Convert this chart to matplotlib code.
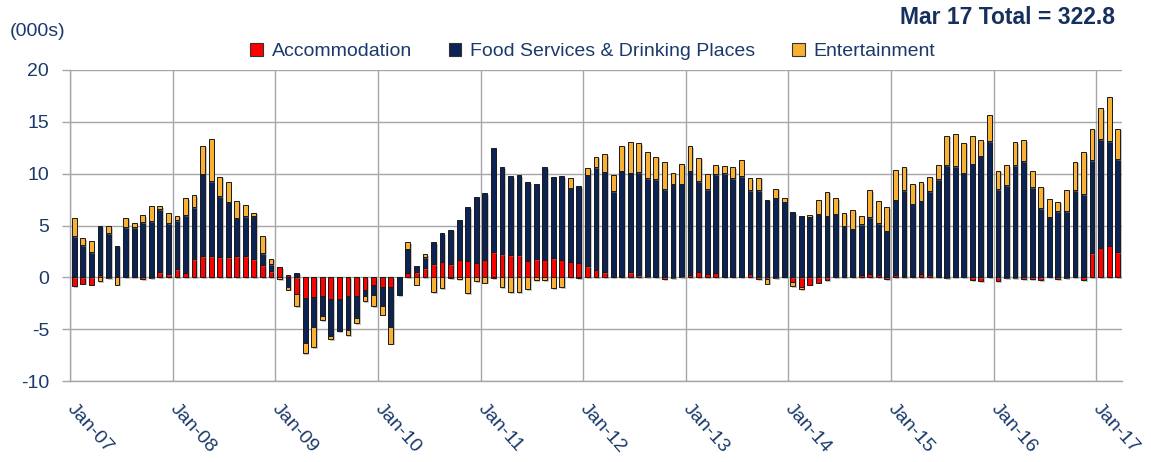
import numpy as np
import matplotlib
matplotlib.use("Agg")
import matplotlib.pyplot as plt
from matplotlib.patches import Patch
import matplotlib.patheffects as pe

plt.rcParams['font.family'] = ['Liberation Sans', 'DejaVu Sans']

# ---------------- data (thousands, monthly change) ----------------
year_labels = ["Jan-07", "Jan-08", "Jan-09", "Jan-10", "Jan-11", "Jan-12",
               "Jan-13", "Jan-14", "Jan-15", "Jan-16", "Jan-17"]

accommodation = [
    # 2007
    -0.85, -0.6, -0.7, 0.25, -0.1, 0.0, 0.0, 0.0, -0.2, -0.1, 0.5, 0.3,
    # 2008
    0.8, 0.45, 1.75, 2.05, 2.05, 1.95, 1.95, 2.05, 2.05, 1.75, 1.2, 0.6,
    # 2009
    0.95, 0.2, -1.6, -2.0, -1.85, -1.8, -2.05, -2.05, -1.8, -1.8, -1.2, -0.7,
    # 2010
    -0.95, -0.95, 0.0, 0.45, 0.5, 0.9, 1.3, 1.5, 1.3, 1.7, 1.6, 1.4,
    # 2011
    1.7, 2.45, 2.25, 2.15, 2.15, 1.6, 1.75, 1.7, 1.85, 1.7, 1.5, 1.4,
    # 2012
    1.05, 0.75, 0.5, 0.0, 0.15, 0.5, 0.2, 0.1, 0.0, -0.2, -0.1, 0.1,
    # 2013
    0.25, 0.55, 0.35, 0.45, 0.05, 0.0, 0.0, 0.35, -0.2, -0.2, -0.1, 0.0,
    # 2014
    -0.45, -0.95, -0.7, -0.5, -0.3, 0.0, 0.0, 0.0, 0.25, 0.35, 0.25, -0.2,
    # 2015
    0.25, 0.15, 0.15, 0.35, 0.25, 0.0, -0.05, 0.0, 0.0, -0.3, -0.4, 0.0,
    # 2016
    -0.4, -0.1, -0.1, -0.2, -0.2, -0.3, 0.0, -0.2, -0.1, 0.0, -0.3, 2.35,
    # 2017
    2.85, 3.05, 2.45,
]

food_services = [
    # 2007
    4.0, 3.1, 2.4, 4.7, 4.25, 3.05, 4.85, 4.85, 5.3, 5.4, 6.05, 4.9,
    # 2008
    4.7, 5.55, 5.0, 7.95, 7.2, 5.85, 5.35, 3.7, 3.85, 4.2, 1.1, 0.65,
    # 2009
    0.0, -0.95, 0.45, -4.3, -2.9, -1.9, -3.6, -3.1, -3.3, -2.1, -0.6, -1.0,
    # 2010
    -1.8, -3.85, -1.6, 2.3, 0.6, 1.05, 2.1, 2.75, 3.3, 3.85, 5.2, 6.35,
    # 2011
    6.45, 10.0, 8.4, 7.6, 7.7, 7.6, 7.3, 8.95, 7.85, 8.05, 7.15, 7.4,
    # 2012
    8.85, 9.85, 9.7, 8.3, 10.15, 9.6, 9.95, 9.45, 9.45, 8.5, 9.05, 8.95,
    # 2013
    10.05, 8.7, 8.15, 9.5, 10.0, 9.55, 9.75, 8.05, 8.4, 7.5, 7.7, 7.3,
    # 2014
    6.3, 5.95, 5.85, 6.15, 5.95, 6.15, 5.0, 4.7, 4.85, 5.45, 4.95, 4.5,
    # 2015
    7.25, 8.25, 6.95, 7.05, 8.05, 9.45, 10.85, 10.75, 10.1, 10.95, 11.75, 13.15,
    # 2016
    8.5, 8.9, 10.85, 11.2, 8.7, 6.65, 5.85, 6.4, 6.4, 8.4, 8.0, 8.95,
    # 2017
    10.45, 10.1, 8.95,
]

entertainment = [
    # 2007
    1.75, 0.65, 1.1, -0.4, 0.7, -0.7, 0.9, 0.35, 0.7, 1.5, 0.3, 1.05,
    # 2008
    0.45, 1.65, 1.15, 2.7, 4.1, 1.9, 1.9, 1.6, 1.05, 0.3, 1.7, 0.55,
    # 2009
    -0.2, -0.25, -1.2, -1.0, -2.0, -0.45, -0.3, -0.05, -0.5, -0.5, -0.5, -1.05,
    # 2010
    -0.85, -1.6, -0.1, 0.65, -0.7, 0.3, -1.4, -1.05, -0.1, -0.2, -1.5, -0.4,
    # 2011
    -0.5, -0.1, -0.95, -1.4, -1.4, -1.15, -0.3, -0.3, -1.05, -0.95, 0.9, -0.1,
    # 2012
    0.6, 1.05, 1.7, 1.55, 2.4, 3.0, 2.8, 2.5, 2.2, 2.65, 1.05, 1.85,
    # 2013
    2.35, 2.3, 1.5, 0.9, 0.7, 1.1, 1.6, 1.15, 1.2, -0.4, 0.85, 0.4,
    # 2014
    -0.4, -0.2, 0.2, 1.3, 2.3, 1.5, 1.2, 1.75, 0.85, 2.6, 2.15, 2.3,
    # 2015
    2.85, 2.25, 1.95, 1.75, 1.4, 1.4, 2.8, 3.1, 2.9, 2.65, 1.5, 2.5,
    # 2016
    1.8, 1.95, 2.2, 2.0, 1.55, 2.1, 1.7, 0.9, 2.0, 2.75, 4.05, 3.05,
    # 2017
    3.05, 4.2, 2.95,
]

series_names = ["Accommodation", "Food Services & Drinking Places", "Entertainment"]
series_colors = ["#FF0000", "#0C2355", "#F8B133"]
title_text = "Mar 17 Total = 322.8"
unit_text = "(000s)"

# ---------------- figure ----------------
text_color = "#1B3A6B"
grid_color = "#A6A6A6"

fig = plt.figure(figsize=(11.51, 4.62), dpi=100)
ax = fig.add_axes([70 / 1151, 1 - 381 / 462, (1122 - 70) / 1151, (381 - 70) / 462])

n = len(accommodation)
x = np.arange(n)
pos_base = np.zeros(n)
neg_base = np.zeros(n)
shadow = [pe.SimplePatchShadow(offset=(1.2, -1.2), shadow_rgbFace="#808080", alpha=0.45),
          pe.Normal()]
for vals, col in zip([accommodation, food_services, entertainment], series_colors):
    v = np.array(vals, dtype=float)
    bottom = np.where(v >= 0, pos_base, neg_base)
    bars = ax.bar(x, v, bottom=bottom, width=0.56, color=col,
                  edgecolor="#1A1A1A", linewidth=0.7, zorder=3)
    for b in bars:
        b.set_path_effects(shadow)
    pos_base += np.clip(v, 0, None)
    neg_base += np.clip(v, None, 0)

ax.set_xlim(-0.5, n - 0.5)
ax.set_ylim(-10, 20)
ax.set_yticks(np.arange(-10, 21, 5))
ax.set_yticklabels([str(v) for v in range(-10, 21, 5)])

xt = [-0.5 + 12 * k for k in range(len(year_labels))]
ax.set_xticks(xt)
ax.set_xticklabels(year_labels, rotation=-48, ha="left", va="center",
                   rotation_mode="anchor")

ax.grid(True, axis="both", color=grid_color, linewidth=1.0, zorder=0)
ax.set_axisbelow(True)
for s in ["top", "right"]:
    ax.spines[s].set_visible(False)
for s in ["left", "bottom"]:
    ax.spines[s].set_color(grid_color)
    ax.spines[s].set_linewidth(1.0)

ax.tick_params(axis="y", direction="out", length=6, width=1.0, color=grid_color,
               pad=9, labelsize=14, labelcolor=text_color)
ax.tick_params(axis="x", length=0, pad=18, labelsize=14, labelcolor=text_color)

# legend
handles = [Patch(facecolor=c, edgecolor="#333333", linewidth=0.8) for c in series_colors]
fig.legend(handles, series_names, loc="center", bbox_to_anchor=(0.515, 0.888),
           ncol=3, frameon=False, fontsize=14, handlelength=0.65, handleheight=0.65,
           handletextpad=0.45, columnspacing=1.9, labelcolor=text_color)

fig.text(1115 / 1151, 1 - 18 / 462, title_text, ha="right", va="center",
         fontsize=16.5, fontweight="bold", color="#16305E",
         family=["Liberation Sans Narrow", "Liberation Sans", "DejaVu Sans"])
fig.text(10 / 1151, 1 - 31 / 462, unit_text, ha="left", va="center",
         fontsize=14, color=text_color)

fig.savefig("out.png", dpi=100)
